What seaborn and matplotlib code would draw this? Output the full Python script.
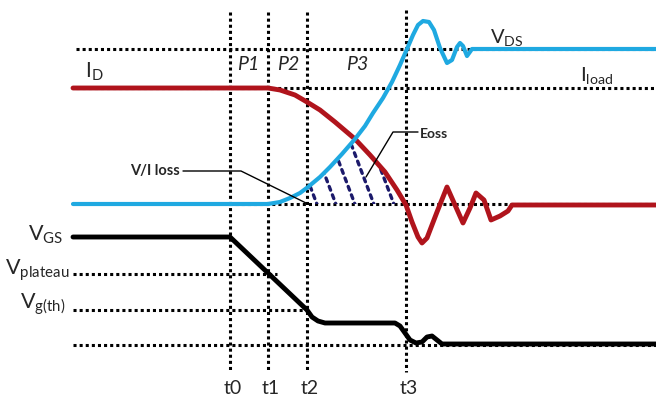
import numpy as np
import pandas as pd
import seaborn as sns
import matplotlib
matplotlib.use("Agg")
import matplotlib.pyplot as plt
from matplotlib.path import Path
from matplotlib.patches import PathPatch

# ---------------------------------------------------------------
# Turn-off switching waveforms (pixel-like canvas units, y grows downward)
# ---------------------------------------------------------------

# time markers
T_NAMES = ["t0", "t1", "t2", "t3"]
T_POS = [230, 268, 307, 406]

# reference levels (dotted guides)
LEVEL_VDS = 49
LEVEL_ILOAD = 88
LEVEL_ZERO = 204
LEVEL_PLATEAU = 274
LEVEL_GTH = 310
LEVEL_GND = 345

# drain current I_D
ID_X = [73, 268, 280, 295, 307, 320, 335, 355, 370, 385, 397, 406, 412, 418,
        422, 427, 437, 447, 455, 463, 470, 476, 484, 491, 500, 508, 512, 656]
ID_Y = [88, 88, 90, 95, 102, 110, 122, 139, 155, 172, 190, 205, 222, 237,
        243, 238, 212, 187, 205, 223, 208, 193, 200, 220, 216, 211, 205, 205]

# drain-source voltage V_DS
VDS_X = [73, 268, 280, 290, 300, 308, 320, 330, 342, 355, 365, 373, 383, 392,
         400, 407, 413, 418, 423, 429, 434, 440, 447, 452, 457, 460, 463, 467,
         472, 656]
VDS_Y = [204, 204, 202, 198, 193, 187, 177, 167, 154, 139, 126, 113, 98, 82,
         65, 49, 35, 25, 21, 22, 30, 48, 63, 60, 47, 43, 46, 56,
         49, 49]

# gate-source voltage V_GS
VGS_X = [73, 230, 307, 312, 318, 325, 395, 400, 405, 410, 416, 422, 427, 432,
         437, 442, 656]
VGS_Y = [237, 237, 310, 317, 321, 323, 323, 326, 333, 340, 343, 342, 337, 336,
         340, 344, 344]

# baseline crossings of the Eoss hatch strokes
HATCH_X0 = [317, 336, 355, 374, 394, 412]

RED = "#B0141C"
BLUE = "#1FA9E1"
NAVY = "#1C1A6B"

sns.set_theme(style="white")
plt.rcParams["font.family"] = ["Lato", "DejaVu Sans"]
plt.rcParams["mathtext.fontset"] = "custom"
plt.rcParams["mathtext.rm"] = "Lato"
plt.rcParams["mathtext.it"] = "Lato:italic"
plt.rcParams["mathtext.bf"] = "Lato:bold"

fig = plt.figure(figsize=(6.56, 4.01), dpi=100)
ax = fig.add_axes([0, 0, 1, 1])
ax.set_xlim(0, 656)
ax.set_ylim(401, 0)
ax.axis("off")

dot = dict(color="black", linewidth=2.2, linestyle=(0, (1, 1.0)),
           capstyle="butt", zorder=1)

# vertical time markers
ax.vlines(T_POS[:3], 12, 372, **dot)
ax.vlines(T_POS[3], 10, 372, **dot)

# horizontal reference levels
ax.hlines(LEVEL_VDS, 76, 656, **dot)
ax.hlines(LEVEL_ILOAD, 76, 656, **dot)
ax.hlines(LEVEL_ZERO, 229, 656, **dot)
ax.hlines(LEVEL_PLATEAU, 73, 277, **dot)
ax.hlines(LEVEL_GTH, 73, 310, **dot)
ax.hlines(LEVEL_GND, 73, 656, **dot)

# Eoss region: baseline, red current edge, blue voltage edge
vx, vy = np.array(VDS_X), np.array(VDS_Y)
ix, iy = np.array(ID_X), np.array(ID_Y)
x_cross = 355
blue_part = [(x, y) for x, y in zip(vx, vy) if T_POS[2] <= x <= x_cross]
red_part = [(x, y) for x, y in zip(ix, iy) if x_cross < x <= T_POS[3]]
poly = ([(T_POS[2], LEVEL_ZERO)] + blue_part + red_part
        + [(T_POS[3], LEVEL_ZERO), (T_POS[2], LEVEL_ZERO)])
clip = PathPatch(Path(poly), facecolor="none", edgecolor="none")
ax.add_patch(clip)
for x0 in HATCH_X0:
    ln, = ax.plot([x0 + 1, x0 - 40], [LEVEL_ZERO + 3, LEVEL_ZERO - 105],
                  color=NAVY, linewidth=2.4, linestyle=(0, (1.2, 1.5)),
                  dash_capstyle="round", zorder=2)
    ln.set_clip_path(clip)

# waveforms
common = dict(sort=False, estimator=None, ax=ax, legend=False)
sns.lineplot(x=ID_X, y=ID_Y, color=RED, linewidth=3.5, zorder=4, **common)
sns.lineplot(x=VDS_X, y=VDS_Y, color=BLUE, linewidth=3.0, zorder=5, **common)
sns.lineplot(x=VGS_X, y=VGS_Y, color="black", linewidth=3.5, zorder=4, **common)
for line in ax.get_lines()[-3:]:
    line.set_solid_joinstyle("round")
    line.set_solid_capstyle("round")

# leader lines
ax.plot([183, 241, 306], [171, 171, 203], color="black", linewidth=1.0, zorder=6)
ax.plot([366, 393, 418], [177, 132, 132], color="black", linewidth=1.0, zorder=6)

# labels
ax.text(85, 72, r"$\mathregular{I_D}$", fontsize=15, va="center", ha="left")
ax.text(490, 37, r"$\mathregular{V_{DS}}$", fontsize=14.5, va="center", ha="left")
ax.text(580, 76, r"$\mathregular{I_{load}}$", fontsize=14.5, va="center", ha="left")
for name, xc in zip(["P1", "P2", "P3"], [248, 288, 357]):
    ax.text(xc, 64, name, fontsize=14, style="italic", ha="center", va="center")
ax.text(180, 171, "V/I loss", fontsize=10.5, fontweight="bold", ha="right", va="center")
ax.text(420, 134, "Eoss", fontsize=10, fontweight="bold", ha="left", va="center")

ax.text(63, 241, r"$\mathregular{V_{GS}}$", fontsize=15.5, ha="right", va="baseline")
ax.text(69, 275, r"$\mathregular{V_{plateau}}$", fontsize=15.5, ha="right", va="baseline")
ax.text(66, 309, r"$\mathregular{V_{g(th)}}$", fontsize=15.5, ha="right", va="baseline")

for name, xt in zip(T_NAMES, T_POS):
    ax.text(xt + 3, 389, name, fontsize=14, ha="center", va="center")

fig.savefig("out.png", dpi=100)
